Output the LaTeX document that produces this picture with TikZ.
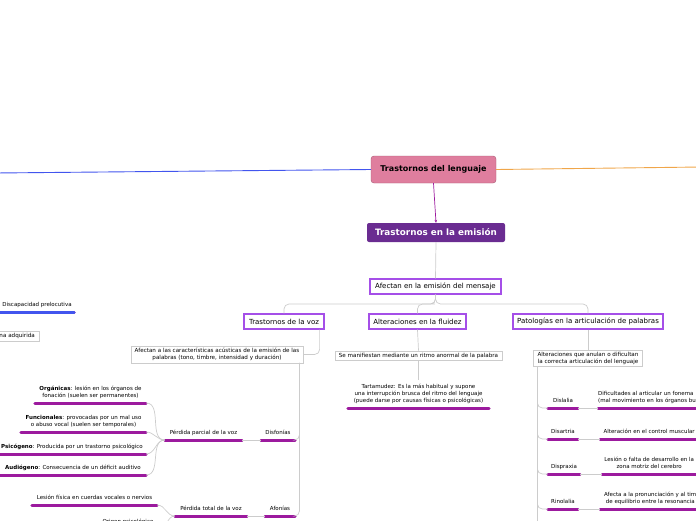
\documentclass[tikz,border=0pt]{standalone}
\usepackage{fontspec}
\setmainfont{DejaVu Sans}
\usetikzlibrary{arrows.meta, positioning, shadows}

\definecolor{rootpink}{HTML}{DF7E9E}
\definecolor{rootedge}{HTML}{A85872}
\definecolor{mainpurple}{HTML}{6A2C91}
\definecolor{topicedge}{HTML}{A54FE8}
\definecolor{barpurple}{HTML}{9C1A9E}
\definecolor{linkgray}{HTML}{CCCCCC}
\definecolor{blueline}{HTML}{4255EE}
\definecolor{orangeline}{HTML}{F0A64A}

\begin{document}
\begin{tikzpicture}[
    x=1pt, y=-1pt,
    rootbox/.style={draw=rootedge, fill=rootpink, rounded corners=3pt, minimum width=125pt, minimum height=27pt, inner sep=0pt, font=\fontsize{8}{9}\selectfont\bfseries},
    mainbox/.style={fill=mainpurple, text=white, rounded corners=2pt, minimum width=138pt, minimum height=19pt, inner sep=0pt, font=\fontsize{8.8}{10}\selectfont\bfseries},
    topic/.style={draw=topicedge, line width=1.2pt, fill=white, minimum height=15pt, inner sep=0pt, font=\fontsize{7}{8}\selectfont,
        drop shadow={shadow xshift=1pt, shadow yshift=-1pt, fill=black!30, opacity=0.5}},
    note/.style={draw=linkgray, fill=white, align=center, inner xsep=4pt, inner ysep=2pt, font=\fontsize{5.6}{6.8}\selectfont},
    bar/.style={line width=3pt, line cap=round, draw=barpurple},
    leaf/.style={align=center, inner xsep=0pt, inner ysep=3.8pt, text depth=1.2pt, font=\fontsize{5.5}{7}\selectfont,
        append after command={(\tikzlastnode.south west) edge[bar] (\tikzlastnode.south east)}},
    link/.style={draw=linkgray, line width=0.7pt, rounded corners=5pt},
]
\useasboundingbox (0,0) rectangle (696,520);
\clip (0,0) rectangle (696,520);

% centre
\node[rootbox] (root) at (433.5,169.5) {Trastornos del lenguaje};
\node[mainbox] (emision) at (436,232.5) {Trastornos en la emisión};
\coordinate (blueend) at (-5,173);
\coordinate (orangeend) at (701,167);
\draw[blueline, line width=0.9pt] (root.west) -- (blueend);
\draw[orangeline, line width=0.9pt] (root.east) -- (orangeend);
\draw[-{Stealth[length=3pt, width=2.5pt]}, draw=barpurple, line width=0.7pt] (root.south) -- (emision.north);

\node[topic, minimum width=131pt] (mensaje) at (435.5,286.5) {Afectan en la emisión del mensaje};
\node[topic, minimum width=80pt] (voz) at (284,321.5) {Trastornos de la voz};
\node[topic, minimum width=97pt] (fluidez) at (417.5,321.5) {Alteraciones en la fluidez};
\node[topic, minimum width=150pt] (artic) at (588,321.5) {Patologías en la articulación de palabras};

\draw[link] (emision.south) -- (mensaje.north);
\draw[link] (mensaje.south) |- (300,304) -| (voz.north);
\draw[link] (mensaje.south) |- (430,304) -| (fluidez.north);
\draw[link] (mensaje.south) |- (570,304) -| (artic.north);

% left border
\node[leaf, minimum width=74pt, append after command={(\tikzlastnode.south west) edge[bar, draw=blueline] (\tikzlastnode.south east)}] (prel) at (37,312) [anchor=south] {Discapacidad prelocutiva};
\node[note, text width=60pt, align=right, anchor=east] (adq) at (39,336) {na adquirida};

% voz
\node[note] (acust) at (217,354.5) {Afectan a las características acústicas de la emisión de las\\palabras (tono, timbre, intensidad y duración)};
\node[leaf, anchor=south, minimum width=34pt] (disf) at (278,440) {Disfonías};
\node[leaf, anchor=south, minimum width=77pt] (parc) at (203.5,440) {Pérdida parcial de la voz};
\node[leaf, anchor=south, minimum width=111pt] (org) at (90.5,403) {\textbf{Orgánicas}: lesión en los órganos de\\fonación (suelen ser permanentes)};
\node[leaf, anchor=south, minimum width=125pt] (func) at (83.5,432) {\textbf{Funcionales}: provocadas por un mal uso\\o abuso vocal (suelen ser temporales)};
\node[leaf, anchor=south, minimum width=148pt] (psic) at (72,454) {\textbf{Psicógeno}: Producida por un trastorno psicológico};
\node[leaf, anchor=south, minimum width=146pt] (aud) at (73,475) {\textbf{Audiógeno}: Consecuencia de un déficit auditivo};
\node[leaf, anchor=south, minimum width=30pt] (afon) at (280,516) {Afonías};
\node[leaf, anchor=south, minimum width=72pt] (total) at (211,516) {Pérdida total de la voz};
\node[leaf, anchor=south, minimum width=125pt] (lesion) at (94.5,505) {Lesión física en cuerdas vocales o nervios};
\node[leaf, anchor=south, minimum width=62pt] (origen) at (128,529) {Origen psicológico};

\draw[link] ([xshift=-5pt]voz.south east) |- (acust.east);
\draw[link] ([xshift=-4pt]acust.south east) |- (disf.south east);
\draw[link] ([xshift=-4pt]acust.south east) |- (afon.south east);
\draw[link] (parc.south east) -- (disf.south west);
\draw[link] (total.south east) -- (afon.south west);
\foreach \n in {org, func, psic, aud}
    \draw[link] (parc.south west) to[out=180, in=0] (\n.south east);
\foreach \n in {lesion, origen}
    \draw[link] (total.south west) to[out=180, in=0] (\n.south east);

% fluidez
\node[note] (ritmo) at (418.5,355.5) {Se manifiestan mediante un ritmo anormal de la palabra};
\node[leaf, anchor=south, minimum width=141pt] (tart) at (418.5,408) {Tartamudez: Es la más habitual y supone\\una interrupción brusca del ritmo del lenguaje\\(puede darse por causas físicas o psicológicas)};
\draw[link] (fluidez.south) -- (ritmo.north);
\draw[link] (ritmo.south) -- (tart.north);

% articulacion
\node[note] (artnote) at (588,358.5) {Alteraciones que anulan o dificultan\\la correcta articulación del lenguaje};
\node[leaf, anchor=south, minimum width=30pt] (disl) at (563,408) {Dislalia};
\node[leaf, anchor=south, minimum width=30pt] (disa) at (563,439) {Disartria};
\node[leaf, anchor=south, minimum width=32pt] (dispr) at (564,474) {Dispraxia};
\node[leaf, anchor=south, minimum width=30pt] (rino) at (563,509) {Rinolalia};
\node[leaf, anchor=south west, align=left, minimum width=100pt] (dislt) at (598,408) {Dificultades al articular un fonema\\(mal movimiento en los órganos bucales)};
\node[leaf, anchor=south west, minimum width=98pt] (disat) at (600,439) {Alteración en el control muscular};
\node[leaf, anchor=south west, minimum width=94pt] (disprt) at (602,474) {Lesión o falta de desarrollo en la\\zona motriz del cerebro};
\node[leaf, anchor=south west, minimum width=134pt] (rinot) at (600,509) {Afecta a la pronunciación y al timbre por falta\\de equilibrio entre la resonancia nasal y oral};

\draw[link] (artic.south) -- (artnote.north);
\foreach \n in {disl, disa, dispr, rino}
    \draw[link] ([xshift=4pt]artnote.south west) |- (\n.south west);
\draw[link] ([xshift=4pt]artnote.south west) -- ++(0,170);
\draw[link] (disl.south east) -- (dislt.south west);
\draw[link] (disa.south east) -- (disat.south west);
\draw[link] (dispr.south east) -- (disprt.south west);
\draw[link] (rino.south east) -- (rinot.south west);

\end{tikzpicture}
\end{document}
